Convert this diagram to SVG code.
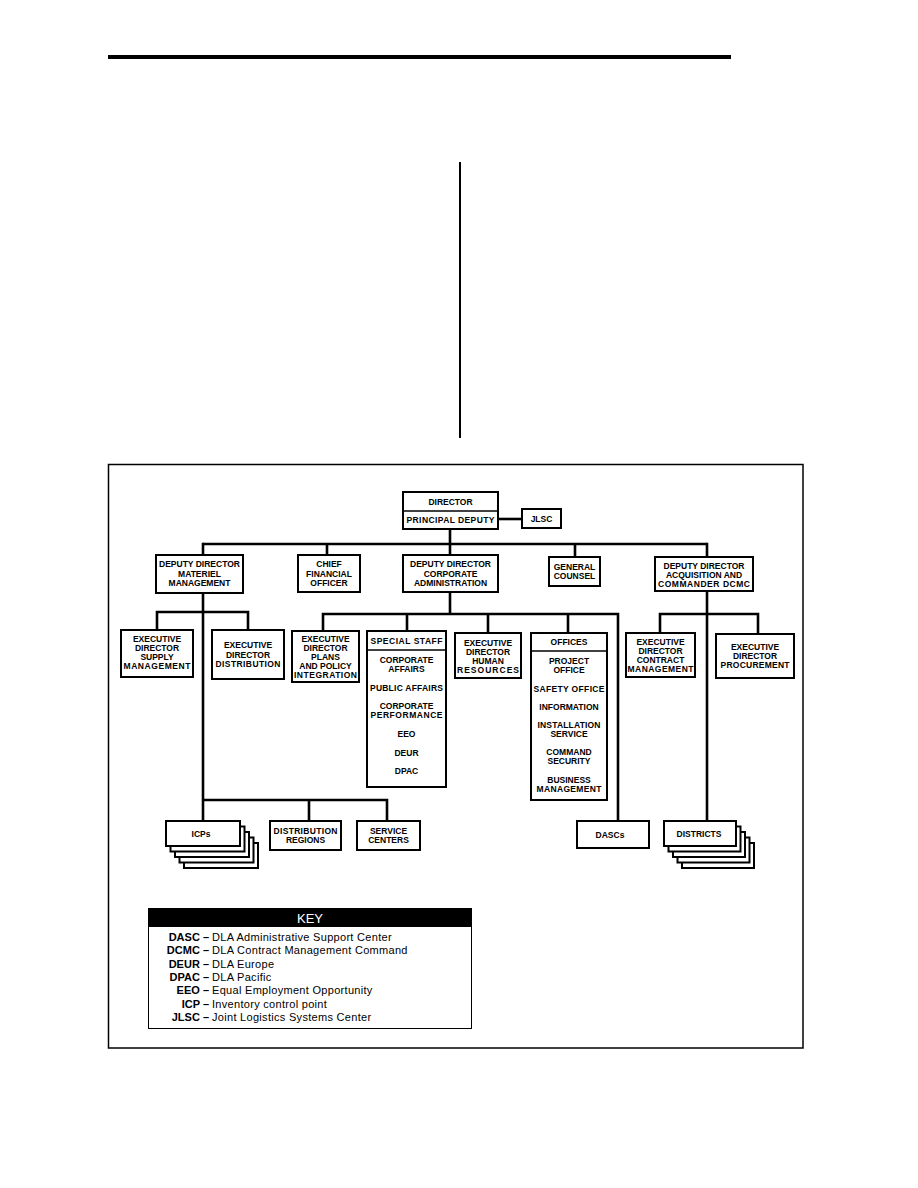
<svg xmlns="http://www.w3.org/2000/svg" width="918" height="1188" viewBox="0 0 918 1188">
<style>
.box{fill:#fff;stroke:#000;stroke-width:2}
.ln{fill:none;stroke:#000;stroke-width:2.6}
.thin{fill:none;stroke:#000;stroke-width:1.5}
.t{font-family:"Liberation Sans",Arial,sans-serif;font-size:8.5px;font-weight:bold;text-anchor:middle;fill:#000}
.kb{font-family:"Liberation Sans",Arial,sans-serif;font-size:11px;font-weight:bold;text-anchor:end;fill:#000}
.kd{font-family:"Liberation Sans",Arial,sans-serif;font-size:11px;letter-spacing:0.3px;fill:#000}
</style>
<rect width="918" height="1188" fill="#fff"/>
<g id="page-rules">
<rect x="108" y="55" width="623" height="4" fill="#000"/>
<rect x="459" y="162" width="2" height="276" fill="#000"/>
<rect x="108.5" y="464.5" width="694.5" height="583.5" class="thin"/>
</g>
<g id="connectors">
<path class="ln" d="M498 519H522"/>
<path class="ln" d="M450 529V555"/>
<path class="ln" d="M203 544H707"/>
<path class="ln" d="M203 542.7V555M327 544V555M575 544V557M707 542.7V557"/>
<path class="ln" d="M203 593V821"/>
<path class="ln" d="M157 612H248M157 610.7V630M248 610.7V630"/>
<path class="ln" d="M450 592V614"/>
<path class="ln" d="M323 614H619.3M323 612.7V631M407 614V631M488 614V633M568 614V633M618 612.7V821"/>
<path class="ln" d="M707 591V821"/>
<path class="ln" d="M660 614H758M660 612.7V633M758 612.7V634"/>
<path class="ln" d="M203 800H387M309 800V821M387 798.7V821"/>
</g>
<g id="director">
<rect class="box" x="403" y="492" width="95" height="37"/>
<path d="M403 511H498" stroke="#000" stroke-width="1.5"/>
<text class="t" x="450.5" y="504.5">DIRECTOR</text>
<text class="t" x="450.5" y="523" textLength="88" lengthAdjust="spacing">PRINCIPAL DEPUTY</text>
</g>
<g id="jlsc">
<rect class="box" x="522" y="509" width="39" height="19"/>
<text class="t" x="541.5" y="521.5">JLSC</text>
</g>
<g id="dd-materiel">
<rect class="box" x="156" y="555" width="87" height="38"/>
<text class="t" x="199.5" y="567">DEPUTY DIRECTOR</text>
<text class="t" x="199.5" y="576.5">MATERIEL</text>
<text class="t" x="199.5" y="586">MANAGEMENT</text>
</g>
<g id="cfo">
<rect class="box" x="298" y="555" width="62" height="37"/>
<text class="t" x="329" y="567">CHIEF</text>
<text class="t" x="329" y="576.5">FINANCIAL</text>
<text class="t" x="329" y="586">OFFICER</text>
</g>
<g id="dd-corporate">
<rect class="box" x="403" y="555" width="95" height="37"/>
<text class="t" x="450.5" y="567">DEPUTY DIRECTOR</text>
<text class="t" x="450.5" y="576.5">CORPORATE</text>
<text class="t" x="450.5" y="586">ADMINISTRATION</text>
</g>
<g id="general-counsel">
<rect class="box" x="549" y="557" width="51" height="29"/>
<text class="t" x="574.5" y="570">GENERAL</text>
<text class="t" x="574.5" y="579">COUNSEL</text>
</g>
<g id="dd-acquisition">
<rect class="box" x="655" y="557" width="98" height="34"/>
<text class="t" x="704" y="568.5">DEPUTY DIRECTOR</text>
<text class="t" x="704" y="577.5">ACQUISITION AND</text>
<text class="t" x="704" y="586.5" textLength="92" lengthAdjust="spacing">COMMANDER DCMC</text>
</g>
<g id="ed-supply">
<rect class="box" x="121" y="630" width="72" height="47"/>
<text class="t" x="157" y="642">EXECUTIVE</text>
<text class="t" x="157" y="651">DIRECTOR</text>
<text class="t" x="157" y="660">SUPPLY</text>
<text class="t" x="157" y="669" textLength="67" lengthAdjust="spacing">MANAGEMENT</text>
</g>
<g id="ed-distribution">
<rect class="box" x="212" y="630" width="72" height="49"/>
<text class="t" x="248" y="648">EXECUTIVE</text>
<text class="t" x="248" y="657.5">DIRECTOR</text>
<text class="t" x="248" y="667" textLength="65" lengthAdjust="spacing">DISTRIBUTION</text>
</g>
<g id="ed-plans">
<rect class="box" x="292" y="631" width="67" height="51"/>
<text class="t" x="325.5" y="641.5">EXECUTIVE</text>
<text class="t" x="325.5" y="650.5">DIRECTOR</text>
<text class="t" x="325.5" y="659.5">PLANS</text>
<text class="t" x="325.5" y="668.5">AND POLICY</text>
<text class="t" x="325.5" y="677.5" textLength="63" lengthAdjust="spacing">INTEGRATION</text>
</g>
<g id="special-staff">
<rect class="box" x="367" y="631" width="79" height="156"/>
<path d="M367 650H446" stroke="#000" stroke-width="1.5"/>
<text class="t" x="406.5" y="643.5" textLength="72" lengthAdjust="spacing">SPECIAL STAFF</text>
<text class="t" x="406.5" y="663">CORPORATE</text>
<text class="t" x="406.5" y="672">AFFAIRS</text>
<text class="t" x="406.5" y="691" textLength="73" lengthAdjust="spacing">PUBLIC AFFAIRS</text>
<text class="t" x="406.5" y="709">CORPORATE</text>
<text class="t" x="406.5" y="718" textLength="72" lengthAdjust="spacing">PERFORMANCE</text>
<text class="t" x="406.5" y="737">EEO</text>
<text class="t" x="406.5" y="755.5">DEUR</text>
<text class="t" x="406.5" y="774">DPAC</text>
</g>
<g id="ed-human-resources">
<rect class="box" x="455" y="633" width="66" height="45"/>
<text class="t" x="488" y="645.5">EXECUTIVE</text>
<text class="t" x="488" y="654.5">DIRECTOR</text>
<text class="t" x="488" y="663.5">HUMAN</text>
<text class="t" x="488" y="672.5" textLength="62" lengthAdjust="spacing">RESOURCES</text>
</g>
<g id="offices">
<rect class="box" x="531" y="633" width="76" height="167"/>
<path d="M531 651H607" stroke="#000" stroke-width="1.5"/>
<text class="t" x="569" y="645">OFFICES</text>
<text class="t" x="569" y="664">PROJECT</text>
<text class="t" x="569" y="673">OFFICE</text>
<text class="t" x="569" y="692" textLength="71" lengthAdjust="spacing">SAFETY OFFICE</text>
<text class="t" x="569" y="710">INFORMATION</text>
<text class="t" x="569" y="728" textLength="63" lengthAdjust="spacing">INSTALLATION</text>
<text class="t" x="569" y="737">SERVICE</text>
<text class="t" x="569" y="755">COMMAND</text>
<text class="t" x="569" y="764">SECURITY</text>
<text class="t" x="569" y="783">BUSINESS</text>
<text class="t" x="569" y="792" textLength="65" lengthAdjust="spacing">MANAGEMENT</text>
</g>
<g id="ed-contract">
<rect class="box" x="626" y="633" width="69" height="44"/>
<text class="t" x="660.5" y="645">EXECUTIVE</text>
<text class="t" x="660.5" y="654">DIRECTOR</text>
<text class="t" x="660.5" y="663">CONTRACT</text>
<text class="t" x="660.5" y="672" textLength="66" lengthAdjust="spacing">MANAGEMENT</text>
</g>
<g id="ed-procurement">
<rect class="box" x="716" y="634" width="78" height="44"/>
<text class="t" x="755" y="650">EXECUTIVE</text>
<text class="t" x="755" y="659">DIRECTOR</text>
<text class="t" x="755" y="668" textLength="69" lengthAdjust="spacing">PROCUREMENT</text>
</g>
<g id="icps">
<rect class="box" x="184" y="843" width="74" height="25"/>
<rect class="box" x="179.5" y="837.5" width="74" height="25"/>
<rect class="box" x="175" y="832" width="74" height="25"/>
<rect class="box" x="170.5" y="826.5" width="74" height="25"/>
<rect class="box" x="166" y="821" width="74" height="25"/>
<text class="t" x="201" y="836.5">ICPs</text>
</g>
<g id="distribution-regions">
<rect class="box" x="270" y="821" width="71" height="29"/>
<text class="t" x="305.5" y="834" textLength="64" lengthAdjust="spacing">DISTRIBUTION</text>
<text class="t" x="305.5" y="843">REGIONS</text>
</g>
<g id="service-centers">
<rect class="box" x="357" y="821" width="63" height="29"/>
<text class="t" x="388.5" y="834">SERVICE</text>
<text class="t" x="388.5" y="843">CENTERS</text>
</g>
<g id="dascs">
<rect class="box" x="577" y="821" width="72" height="27"/>
<text class="t" x="610" y="837.5">DASCs</text>
</g>
<g id="districts">
<rect class="box" x="682" y="843" width="72" height="25"/>
<rect class="box" x="677.5" y="837.5" width="72" height="25"/>
<rect class="box" x="673" y="832" width="72" height="25"/>
<rect class="box" x="668.5" y="826.5" width="72" height="25"/>
<rect class="box" x="664" y="821" width="72" height="25"/>
<text class="t" x="699" y="836.5">DISTRICTS</text>
</g>
<g id="key">
<rect x="148.5" y="908.5" width="323" height="120" fill="#fff" stroke="#000" stroke-width="1"/>
<rect x="148" y="908" width="324" height="19" fill="#000"/>
<text x="310" y="922.5" font-family="Liberation Sans, Arial, sans-serif" font-size="13" text-anchor="middle" fill="#fff">KEY</text>
<text class="kb" x="209" y="941">DASC –</text><text class="kd" x="212" y="941">DLA Administrative Support Center</text>
<text class="kb" x="209" y="954.3">DCMC –</text><text class="kd" x="212" y="954.3">DLA Contract Management Command</text>
<text class="kb" x="209" y="967.7">DEUR –</text><text class="kd" x="212" y="967.7">DLA Europe</text>
<text class="kb" x="209" y="981">DPAC –</text><text class="kd" x="212" y="981">DLA Pacific</text>
<text class="kb" x="209" y="994.3">EEO –</text><text class="kd" x="212" y="994.3">Equal Employment Opportunity</text>
<text class="kb" x="209" y="1007.7">ICP –</text><text class="kd" x="212" y="1007.7">Inventory control point</text>
<text class="kb" x="209" y="1021">JLSC –</text><text class="kd" x="212" y="1021">Joint Logistics Systems Center</text>
</g>
</svg>
